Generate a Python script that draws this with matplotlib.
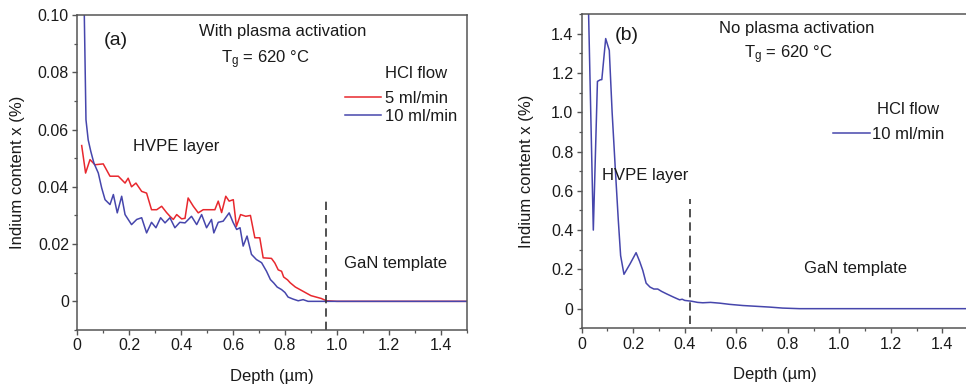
import matplotlib
matplotlib.use("Agg")
import matplotlib.pyplot as plt
from matplotlib.ticker import MultipleLocator, FuncFormatter

plt.rcParams['font.family'] = ['Liberation Sans', 'DejaVu Sans']
plt.rcParams['mathtext.default'] = 'regular'

# (a) with plasma activation, HCl 5 ml/min
depth_a5 = [0.017, 0.032, 0.049, 0.068, 0.10, 0.126, 0.158, 0.184, 0.196, 0.209, 0.226,
            0.248, 0.267, 0.286, 0.306, 0.325, 0.344, 0.357, 0.37, 0.383, 0.402, 0.415,
            0.427, 0.447, 0.466, 0.485, 0.511, 0.53, 0.543, 0.556, 0.572, 0.585, 0.601,
            0.613, 0.629, 0.649, 0.667, 0.684, 0.703, 0.716, 0.748, 0.761, 0.774, 0.787,
            0.795, 0.81, 0.82, 0.84, 0.86, 0.88, 0.90, 0.92, 0.94, 0.96, 1.0, 1.5]
indium_a5 = [0.0544, 0.0448, 0.0495, 0.0477, 0.048, 0.0437, 0.0437, 0.0413, 0.043, 0.040, 0.0413,
             0.0384, 0.0378, 0.032, 0.032, 0.0332, 0.031, 0.0297, 0.0286, 0.0303, 0.0288, 0.029,
             0.0361, 0.0332, 0.0309, 0.032, 0.032, 0.032, 0.035, 0.031, 0.0367, 0.035, 0.0355,
             0.0262, 0.0303, 0.0297, 0.030, 0.0222, 0.0222, 0.0152, 0.015, 0.0134, 0.011, 0.0105,
             0.0085, 0.0075, 0.0065, 0.005, 0.004, 0.003, 0.002, 0.0015, 0.001, 0.0002, 0.0, 0.0]

# (a) with plasma activation, HCl 10 ml/min
depth_a10 = [0.02, 0.0335, 0.042, 0.052, 0.064, 0.081, 0.094, 0.107, 0.126, 0.139, 0.154,
             0.171, 0.184, 0.209, 0.229, 0.248, 0.267, 0.286, 0.303, 0.321, 0.338, 0.357,
             0.376, 0.395, 0.415, 0.44, 0.46, 0.479, 0.498, 0.517, 0.526, 0.543, 0.562,
             0.585, 0.60, 0.614, 0.627, 0.639, 0.654, 0.671, 0.69, 0.71, 0.729, 0.744,
             0.757, 0.77, 0.787, 0.80, 0.812, 0.831, 0.851, 0.87, 0.889, 1.5]
indium_a10 = [0.14, 0.0634, 0.0564, 0.0524, 0.0483, 0.0448, 0.0396, 0.0355, 0.0338, 0.0373, 0.0309,
              0.0367, 0.0303, 0.0268, 0.0286, 0.0292, 0.0239, 0.0276, 0.0257, 0.0292, 0.0274, 0.0292,
              0.0257, 0.0276, 0.0274, 0.0297, 0.0268, 0.0303, 0.0257, 0.0286, 0.0239, 0.0276, 0.028,
              0.0309, 0.0276, 0.0251, 0.0257, 0.0193, 0.0228, 0.0164, 0.0146, 0.0135, 0.0105, 0.0076,
              0.0064, 0.005, 0.0041, 0.0031, 0.0015, 0.0008, 0.0002, 0.0006, 0.0, 0.0]

# (b) no plasma activation, HCl 10 ml/min
depth_b10 = [0.02, 0.045, 0.061, 0.072, 0.078, 0.093, 0.107, 0.118, 0.13, 0.142, 0.151, 0.164,
             0.188, 0.211, 0.225, 0.237, 0.25, 0.265, 0.28, 0.295, 0.31, 0.33, 0.356, 0.38,
             0.39, 0.40, 0.426, 0.45, 0.47, 0.50, 0.536, 0.574, 0.626, 0.678, 0.73, 0.78,
             0.846, 1.0, 1.5]
indium_b10 = [1.9, 0.40, 1.157, 1.165, 1.166, 1.375, 1.315, 1.0, 0.72, 0.45, 0.27, 0.175,
              0.229, 0.285, 0.24, 0.195, 0.13, 0.11, 0.10, 0.10, 0.088, 0.075, 0.059, 0.045,
              0.048, 0.042, 0.038, 0.032, 0.03, 0.032, 0.028, 0.022, 0.016, 0.012, 0.008, 0.003,
              0.0, 0.0, 0.0]

red = '#e8282e'
blue = '#4646ac'
txt = '#1a1a1a'
spine_c = '#555555'
fs = 12


def style(ax, ymajor, yminor, yfmt):
    for s in ax.spines.values():
        s.set_color(spine_c)
        s.set_linewidth(1.1)
    ax.xaxis.set_major_locator(MultipleLocator(0.2))
    ax.xaxis.set_minor_locator(MultipleLocator(0.1))
    ax.yaxis.set_major_locator(MultipleLocator(ymajor))
    ax.yaxis.set_minor_locator(MultipleLocator(yminor))
    ax.xaxis.set_major_formatter(FuncFormatter(lambda v, p: '0' if abs(v) < 1e-9 else f'{v:.1f}'))
    ax.yaxis.set_major_formatter(FuncFormatter(lambda v, p: '0' if abs(v) < 1e-9 else yfmt.format(v)))
    ax.tick_params(which='both', direction='out', colors=spine_c, labelcolor=txt,
                   labelsize=11.5, top=False, right=False)
    ax.tick_params(which='major', length=3.5, width=1.0, pad=2.5)
    ax.tick_params(which='minor', length=2, width=0.9)
    ax.set_xlabel('Depth (µm)', fontsize=fs, color=txt, labelpad=11)


fig = plt.figure(figsize=(9.66, 3.89), dpi=100)

# panel (a)
ax1 = fig.add_axes([0.08, 0.1517, 0.4031, 0.8098])
ax1.plot(depth_a5, indium_a5, color=red, lw=1.1, label='5 ml/min')
ax1.plot(depth_a10, indium_a10, color=blue, lw=1.1, label='10 ml/min')
ax1.plot([0.957, 0.957], [-0.01, 0.035], color='#333333', lw=1.2, ls=(0, (5, 3)))
ax1.set_xlim(0, 1.5)
ax1.set_ylim(-0.01, 0.10)
style(ax1, 0.02, 0.01, '{:.2f}')
ax1.set_ylabel('Indium content x (%)', fontsize=fs, color=txt, labelpad=9)
ax1.text(0.149, 0.091, '(a)', fontsize=14, color=txt, ha='center', va='center')
ax1.text(0.79, 0.0944, 'With plasma activation', fontsize=fs, color=txt, ha='center', va='center')
ax1.text(0.725, 0.0843, r'T$_\mathregular{g}$ = 620 °C', fontsize=fs, color=txt, ha='center', va='center')
ax1.text(1.306, 0.0794, 'HCl flow', fontsize=fs, color=txt, ha='center', va='center')
ax1.text(0.213, 0.0541, 'HVPE layer', fontsize=fs, color=txt, ha='left', va='center')
ax1.text(1.028, 0.0132, 'GaN template', fontsize=fs, color=txt, ha='left', va='center')
ax1.legend(loc='center left', bbox_to_anchor=(0.687, 0.707), frameon=False, fontsize=fs,
           borderpad=0, borderaxespad=0, handlelength=2.15, handletextpad=0.25,
           labelspacing=0.2, labelcolor=txt)

# panel (b)
ax2 = fig.add_axes([0.6022, 0.156, 0.4, 0.808])
ax2.plot(depth_b10, indium_b10, color=blue, lw=1.1, label='10 ml/min')
ax2.plot([0.42, 0.42], [-0.08, 0.56], color='#333333', lw=1.2, ls=(0, (5, 3)))
ax2.set_xlim(0, 1.5)
ax2.set_ylim(-0.1, 1.5)
style(ax2, 0.2, 0.1, '{:.1f}')
ax2.set_ylabel('Indium content x (%)', fontsize=fs, color=txt, labelpad=12)
ax2.text(0.176, 1.39, '(b)', fontsize=14, color=txt, ha='center', va='center')
ax2.text(0.833, 1.425, 'No plasma activation', fontsize=fs, color=txt, ha='center', va='center')
ax2.text(0.80, 1.293, r'T$_\mathregular{g}$ = 620 °C', fontsize=fs, color=txt, ha='center', va='center')
ax2.text(1.267, 1.015, 'HCl flow', fontsize=fs, color=txt, ha='center', va='center')
ax2.text(0.08, 0.679, 'HVPE layer', fontsize=fs, color=txt, ha='left', va='center')
ax2.text(0.863, 0.204, 'GaN template', fontsize=fs, color=txt, ha='left', va='center')
ax2.legend(loc='center left', bbox_to_anchor=(0.651, 0.617), frameon=False, fontsize=fs,
           borderpad=0, borderaxespad=0, handlelength=2.2, handletextpad=0.1,
           labelcolor=txt)

fig.savefig('out.png', dpi=100)
